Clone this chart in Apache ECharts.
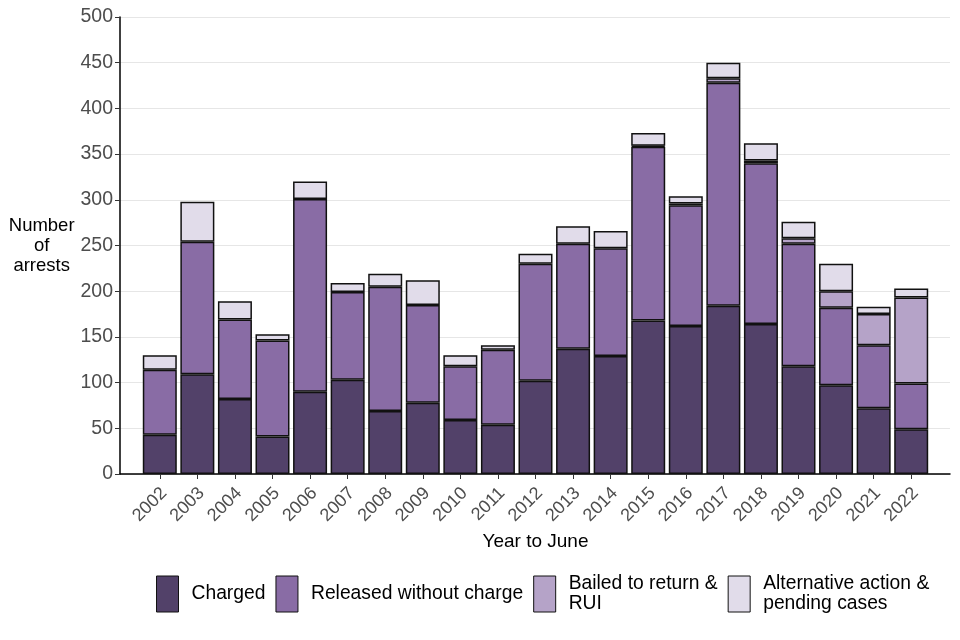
<!DOCTYPE html>
<html>
<head>
<meta charset="utf-8">
<script src="https://cdn.jsdelivr.net/npm/echarts@6/dist/echarts.min.js"></script>
<style>html,body{margin:0;padding:0;background:#fff}#c{width:960px;height:640px}</style>
</head>
<body>
<div id="c"></div>
<script>
const years = ['2002','2003','2004','2005','2006','2007','2008','2009','2010','2011','2012','2013','2014','2015','2016','2017','2018','2019','2020','2021','2022'];
const charged  = [43,109,82,41,90,103,69,78,59,54,102,137,129,168,162,184,164,118,97,72,49];
const released = [71,145,87,105,211,96,136,107,59,82,128,115,118,190,132,244,176,134,85,69,50];
const bailed   = [0,0,0,0,0,0,0,0,0,0,0,0,0,1,2,5,3,6,18,34,94];
const altPend  = [16,44,20,7,19,10,14,27,12,5,11,19,19,14,8,17,19,18,30,8,10];
const seriesNames = ['Charged','Released without charge','Bailed to return &\nRUI','Alternative action &\npending cases'];
const yTicks = [0,50,100,150,200,250,300,350,400,450,500];
const colors = ['#524169','#896ca5','#b5a3c8','#e1dcea'];

const font = 'Liberation Sans, Arial, sans-serif';
const chart = echarts.init(document.getElementById('c'), null, {renderer:'canvas'});
const dataSets = [charged, released, bailed, altPend];
const series = dataSets.map((arr, i) => ({
  name: seriesNames[i],
  type: 'bar',
  stack: 'total',
  xAxisIndex: 1, yAxisIndex: 1,
  barWidth: 34,
  data: arr.map(v => (v === 0 ? '-' : v)),
  itemStyle: {color: colors[i], borderColor: '#111', borderWidth: 1.5},
  emphasis: {disabled: true}
}));

chart.setOption({
  animation: false,
  textStyle: {fontFamily: font},
  grid: [
    {left: 120, right: 10, top: 17, bottom: 166},
    {left: 141, right: 30, top: 17, bottom: 166}
  ],
  legend: {
    bottom: 21, left: 151,
    itemWidth: 22, itemHeight: 36, itemGap: 10,
    icon: 'rect',
    textStyle: {fontSize: 19.3, color: '#000', fontFamily: font, lineHeight: 20, padding: [0, 0, 0, 8]},
    itemStyle: {borderColor: '#111', borderWidth: 1},
    data: seriesNames
  },
  xAxis: [
    {
      type: 'value', gridIndex: 0, min: 0, max: 1,
      axisLine: {show: true, lineStyle: {color: '#000', width: 1.5}},
      axisTick: {show: false}, axisLabel: {show: false}, splitLine: {show: false}
    },
    {
      type: 'category', gridIndex: 1, data: years, boundaryGap: true,
      name: 'Year to June', nameLocation: 'middle', nameGap: 54,
      nameTextStyle: {fontSize: 19, color: '#000', fontFamily: font},
      axisLine: {show: false},
      axisTick: {show: true, alignWithLabel: true, length: 5, lineStyle: {color: '#333'}},
      axisLabel: {rotate: 45, fontSize: 18, color: '#4d4d4d', margin: 8, interval: 0, fontFamily: font,
        verticalAlign: 'top', padding: [0, 3, 0, 0]},
      splitLine: {show: false}
    }
  ],
  yAxis: [
    {
      type: 'value', gridIndex: 0, min: 0, max: 500, interval: 50,
      name: 'Number\nof\narrests', nameLocation: 'middle', nameGap: 78, nameRotate: 0,
      nameTextStyle: {fontSize: 18.5, color: '#000', align: 'center', lineHeight: 20, fontFamily: font},
      axisLine: {show: true, lineStyle: {color: '#000', width: 1.5}},
      axisTick: {show: true, length: 5, lineStyle: {color: '#333'}},
      axisLabel: {fontSize: 19.5, color: '#4d4d4d', margin: 7, fontFamily: font, customValues: yTicks},
      splitLine: {show: true, lineStyle: {color: '#e6e6e6', width: 1}}
    },
    {
      type: 'value', gridIndex: 1, min: 0, max: 500, interval: 50,
      axisLine: {show: false}, axisTick: {show: false}, axisLabel: {show: false}, splitLine: {show: false}
    }
  ],
  series: series
});
</script>
</body>
</html>
